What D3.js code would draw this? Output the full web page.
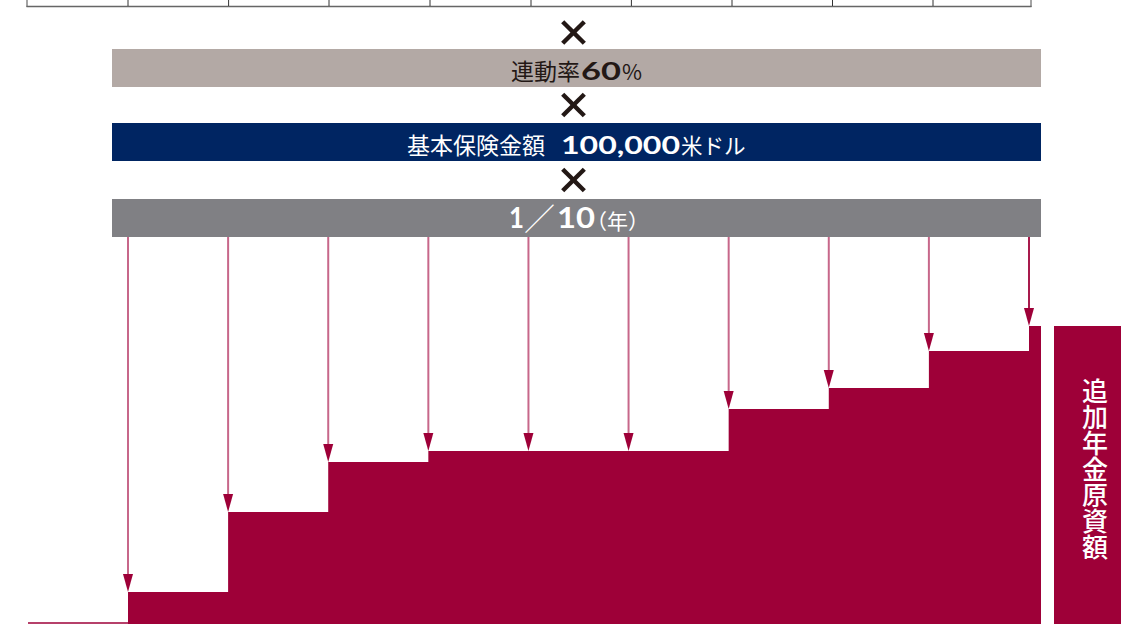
<!DOCTYPE html>
<html>
<head>
<meta charset="utf-8">
<script src="https://cdn.jsdelivr.net/npm/d3@7"></script>
<style>
html,body{margin:0;padding:0;background:#fff;}
svg{display:block;}
</style>
</head>
<body>
<svg id="chart" width="1121" height="624"></svg>
<script>
// ---- data ----
const years = [1, 2, 3, 4, 5, 6, 7, 8, 9, 10];
const amounts = [32, 112, 162, 173, 173, 173, 215, 236, 273, 298]; // relative additional pension amount
const rateLabel = ["連動率", "60", "%"];
const sumLabel = ["基本保険金額", "100,000", "米ドル"];
const fracLabel = ["1", "／", "10", "（年）"];
const sideLabel = "追加年金原資額";

// ---- colours ----
const RED = "#9e0038", PINK = "#c7678a", NAVY = "#002562", TAUPE = "#b3a9a5", GREY = "#808084", DARK = "#231815";

const svg = d3.select("#chart");
const x = d3.scaleLinear().domain([1, 10]).range([128, 1029]);
const y = d3.scaleLinear().domain([0, 387]).range([624, 237]);
const barLeft = 112, barRight = 1041;

// ---- table remnant at top ----
const tbl = svg.append("g");
tbl.append("rect").attr("x", 27).attr("y", -10).attr("width", 1031 - 27).attr("height", 16.5)
  .attr("fill", "#fff").attr("stroke", "#4a4a4a").attr("stroke-width", 1);
tbl.append("line").attr("x1", 26.5).attr("x2", 1031.5).attr("y1", 6.5).attr("y2", 6.5)
  .attr("stroke", "#666").attr("stroke-width", 1.6);
const tableLines = [128, 228.6, 329, 430, 531, 631.4, 732, 832.5, 933];
tbl.selectAll("line.v").data(tableLines).join("line").attr("class", "v")
  .attr("x1", d => d).attr("x2", d => d).attr("y1", -10).attr("y2", 6)
  .attr("stroke", "#333").attr("stroke-width", 1);

// ---- × marks ----
function cross(cy) {
  const s = 10.8;
  const g = svg.append("g").attr("stroke", DARK).attr("stroke-width", 4.4).attr("stroke-linecap", "butt");
  g.append("line").attr("x1", 573.5 - s).attr("y1", cy - s).attr("x2", 573.5 + s).attr("y2", cy + s);
  g.append("line").attr("x1", 573.5 - s).attr("y1", cy + s).attr("x2", 573.5 + s).attr("y2", cy - s);
}
cross(32.5); cross(105); cross(180);

// ---- bands ----
function band(y0, y1, fill) {
  svg.append("rect").attr("x", barLeft).attr("y", y0).attr("width", barRight - barLeft).attr("height", y1 - y0).attr("fill", fill);
}
band(49, 87, TAUPE);
band(123, 161, NAVY);
band(199, 237, GREY);

const cjk = "'Noto Sans CJK JP', 'Noto Sans', sans-serif";
const num = "Lato, 'Open Sans', sans-serif";

function txt(str, x0, yb, opts) {
  const t = svg.append("text").attr("x", x0).attr("y", yb).text(str)
    .attr("font-family", opts.family || cjk).attr("font-size", opts.size)
    .attr("font-weight", opts.weight || 400).attr("font-style", "normal").attr("fill", opts.fill);
  if (opts.len) t.attr("textLength", opts.len).attr("lengthAdjust", "spacingAndGlyphs");
  return t;
}

// band 1 text
txt(rateLabel[0], 511, 80, { size: 23, fill: DARK });
txt(rateLabel[1], 581, 79.5, { family: num, size: 25, weight: 700, fill: DARK, len: 40 });
txt(rateLabel[2], 622, 80, { size: 22, fill: DARK, len: 20 });

// band 2 text
txt(sumLabel[0], 407, 154, { size: 23, fill: "#fff" });
txt(sumLabel[1], 561, 153.5, { family: num, size: 25, weight: 700, fill: "#fff", len: 119 });
txt(sumLabel[2], 681, 154, { size: 21.5, fill: "#fff" });

// band 3 text
txt(fracLabel[0], 509, 228, { family: num, size: 28, weight: 700, fill: "#fff", len: 15 });
txt(fracLabel[1], 524, 230, { size: 31, weight: 300, fill: "#fff" });
txt(fracLabel[2], 557, 228, { family: num, size: 28, weight: 700, fill: "#fff", len: 38 });
txt(fracLabel[3], 586, 229, { size: 21, fill: "#fff" });

// ---- staircase ----
const stepData = years.map((yr, i) => ({ x: x(yr), v: amounts[i] }));
stepData.push({ x: barRight, v: amounts[amounts.length - 1] });
const area = d3.area().x(d => d.x).y0(y(0)).y1(d => y(d.v)).curve(d3.curveStepAfter);
svg.append("path").datum(stepData).attr("d", area).attr("fill", RED);

// baseline before first step
svg.append("line").attr("x1", 28).attr("x2", x(1)).attr("y1", 623).attr("y2", 623)
  .attr("stroke", RED).attr("stroke-width", 1.5);

// ---- arrows ----
const ah = 18, aw = 5;
const arrows = svg.append("g");
arrows.selectAll("line").data(years).join("line")
  .attr("x1", d => x(d)).attr("x2", d => x(d))
  .attr("y1", 237).attr("y2", (d, i) => y(amounts[i]) - ah + 2)
  .attr("stroke", (d, i) => i === years.length - 1 ? "#a81a4c" : PINK).attr("stroke-width", 2);
arrows.selectAll("path").data(years).join("path")
  .attr("d", (d, i) => {
    const px = x(d), py = y(amounts[i]);
    return `M${px - aw},${py - ah}L${px + aw},${py - ah}L${px},${py}Z`;
  })
  .attr("fill", RED);

// ---- side label ----
const sideTop = y(amounts[amounts.length - 1]);
svg.append("rect").attr("x", 1054).attr("y", sideTop).attr("width", 1121 - 1054).attr("height", 624 - sideTop).attr("fill", RED);
svg.append("text")
  .attr("x", 1095).attr("y", 378)
  .style("writing-mode", "vertical-rl")
  .attr("fill", "#fff")
  .attr("font-family", cjk).attr("font-size", 26).attr("font-weight", 500)
  .attr("letter-spacing", 0)
  .text(sideLabel);
</script>
</body>
</html>
